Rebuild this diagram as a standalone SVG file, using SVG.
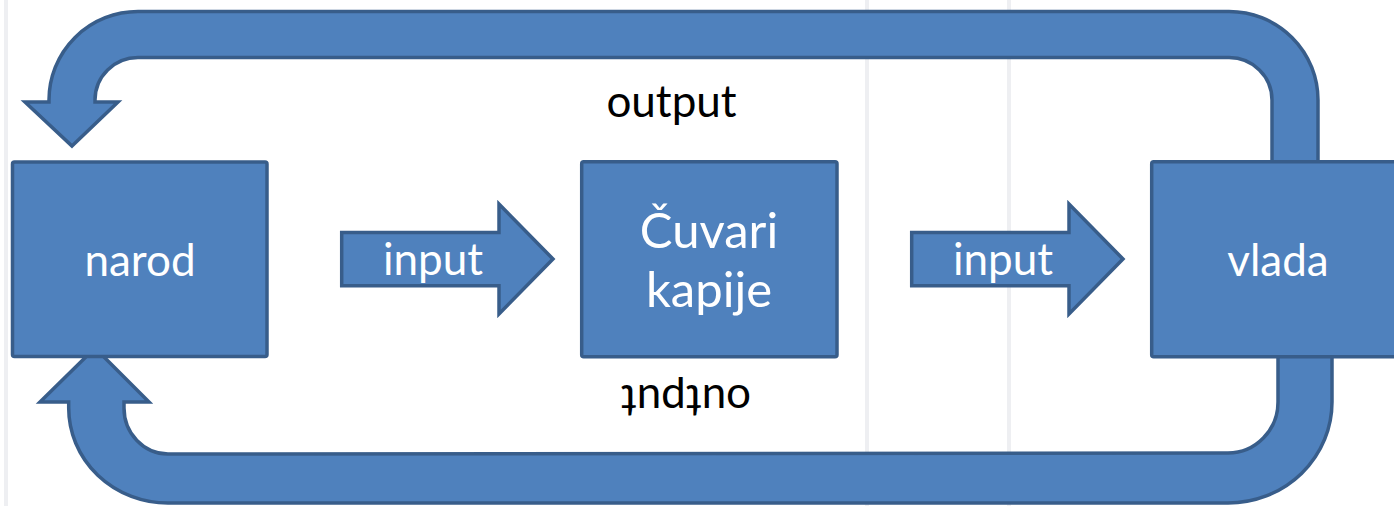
<svg xmlns="http://www.w3.org/2000/svg" width="1394" height="506" viewBox="0 0 1394 506">
  <style>
    .shape { fill: #4F81BD; stroke: #385D8A; stroke-width: 3.5; stroke-linejoin: miter; }
    .label { font-family: Lato, "Open Sans", "Liberation Sans", sans-serif; font-size: 44px; fill: #FFFFFF; text-anchor: middle; }
    .big { font-size: 49px; }
    .out { font-family: Lato, "Open Sans", "Liberation Sans", sans-serif; font-size: 44px; fill: #000000; text-anchor: middle; }
    .bgline { stroke: #EEEFF2; stroke-width: 4; fill: none; }
  </style>
  <rect width="1394" height="506" fill="#FFFFFF"/>
  <g id="background">
    <line class="bgline" x1="6" y1="0" x2="6" y2="506"/>
    <line class="bgline" x1="867" y1="0" x2="867" y2="506"/>
    <line class="bgline" x1="1009" y1="0" x2="1009" y2="506"/>
  </g>
  <g id="connectors">
    <path id="loop-top" class="shape" d="M72,146 L118,102 L95,102 L95,100 A43,42.5 0 0 1 138,57.5 L1229,57.5 A43,42.5 0 0 1 1272,100 L1272,175 L1318,175 L1318,100 A89,88.5 0 0 0 1229,11.5 L138,11.5 A89,88.5 0 0 0 49,100 L49,102 L25,102 Z"/>
    <path id="loop-bottom" class="shape" d="M95,348 L149,402 L124,402 L124,408 A44,46 0 0 0 168,454 L1228,453 A50,51 0 0 0 1278,402 L1278,340 L1332,340 L1332,402 A104,101 0 0 1 1228,503 L168,503 A99.3,95 0 0 1 68.7,408 L68.7,402 L40,402 Z"/>
    <g id="input-1">
      <path class="shape" d="M341.7,232.5 H499 V204 L553,259 L499,314 V285.8 H341.7 Z"/>
      <text class="label" x="433" y="275">input</text>
    </g>
    <g id="input-2">
      <path class="shape" d="M911.7,232.5 H1069 V204 L1123,259 L1069,314 V285.8 H911.7 Z"/>
      <text class="label" x="1003" y="275">input</text>
    </g>
    <text class="out" x="671.5" y="117">output</text>
    <text class="out" transform="translate(686,385) rotate(180)" x="0" y="0">output</text>
  </g>
  <g id="narod">
    <rect class="shape" x="12.5" y="162" width="254.5" height="194.5" rx="2"/>
    <text class="label" x="140" y="276">narod</text>
  </g>
  <g id="cuvari-kapije">
    <rect class="shape" x="581.7" y="161.7" width="255.3" height="195" rx="2"/>
    <text class="label big" x="709" y="248">Čuvari</text>
    <text class="label big" x="709" y="307">kapije</text>
  </g>
  <g id="vlada">
    <rect class="shape" x="1151.7" y="161.7" width="260" height="195" rx="2"/>
    <text class="label" x="1278" y="276">vlada</text>
  </g>
</svg>
